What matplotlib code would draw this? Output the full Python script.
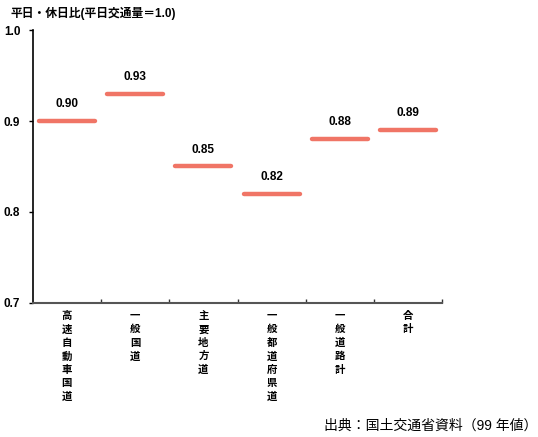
import numpy as np
import matplotlib
matplotlib.use('Agg')
from matplotlib import pyplot as plt

plt.rcParams['font.family'] = ['Liberation Sans', 'Noto Sans CJK JP', 'DejaVu Sans']

categories = ['高速自動車国道', '一般国道', '主要地方道', '一般都道府県道', '一般道路計', '合計']
values = [0.90, 0.93, 0.85, 0.82, 0.88, 0.89]
yticks = [0.7, 0.8, 0.9, 1.0]


def main():
    fig = plt.figure(figsize=(5.38, 4.37), dpi=100)
    ax = fig.add_axes([0.061, 0.307, 0.761, 0.624])
    x = np.arange(len(categories))
    half = 0.41
    for i, v in zip(x, values):
        ax.plot([i - half, i + half], [v, v], color='#F07566', lw=3.2,
                solid_capstyle='round')
        ax.text(i, v + 0.012, '%.2f' % v, ha='center', va='bottom',
                fontsize=8.5, fontweight='bold')

    ax.set_xlim(-0.5, len(categories) - 0.5)
    ax.set_ylim(0.7, 1.0)
    ax.set_yticks(yticks)
    ax.set_yticklabels(['%.1f' % t for t in yticks], fontsize=8.5, fontweight='bold')
    ax.tick_params(axis='y', direction='out', length=3, width=1, pad=6)
    ax.set_xticks([])
    ax.set_xticks(np.arange(len(categories)) + 0.5, minor=True)
    ax.tick_params(axis='x', which='minor', direction='in', length=3, width=1, color='#333333')
    ax.spines['top'].set_visible(False)
    ax.spines['right'].set_visible(False)
    ax.spines['bottom'].set_color('#555555')
    ax.spines['bottom'].set_linewidth(1.5)
    ax.spines['left'].set_linewidth(1.2)

    for i, c in zip(x, categories):
        ax.text(i, -0.03, '\n'.join(c), transform=ax.get_xaxis_transform(),
                ha='center', va='top', fontsize=7.5, fontweight='bold',
                linespacing=1.42)

    fig.text(0.02, 0.985, '平日・休日比(平日交通量＝1.0)', ha='left', va='top',
             fontsize=8.5, fontweight='bold')
    fig.text(0.998, 0.01, '出典：国土交通省資料（99 年値）', ha='right', va='bottom',
             fontsize=10)

    fig.savefig('out.png', dpi=100)


if __name__ == '__main__':
    main()
